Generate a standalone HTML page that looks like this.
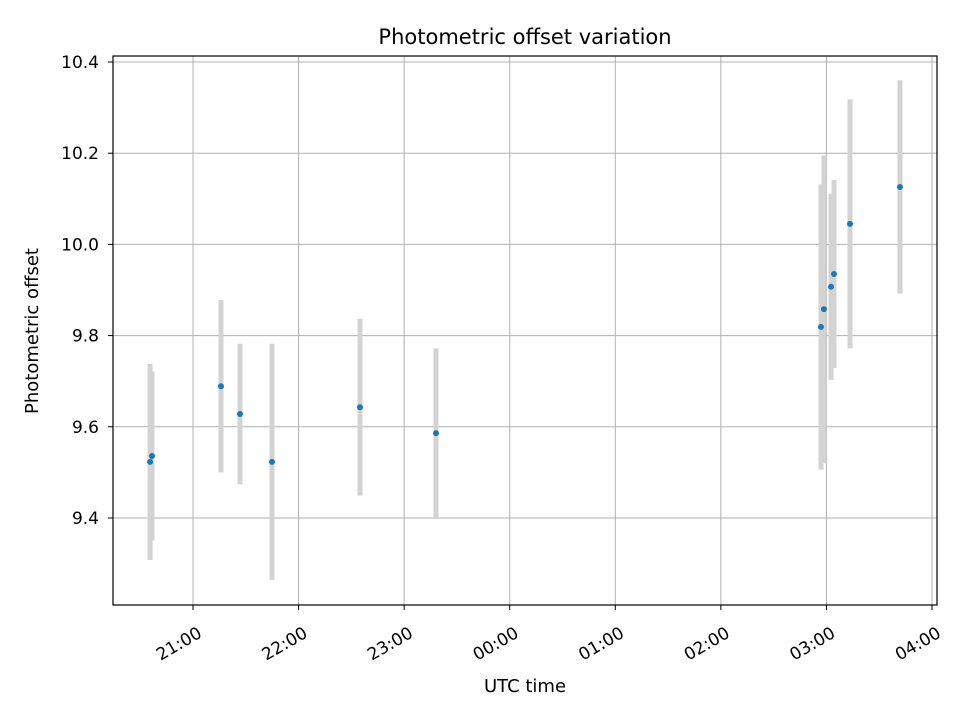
<!DOCTYPE html>
<html><head><meta charset="utf-8"><style>
body{margin:0;background:#fff;}
svg text{font-family:"DejaVu Sans","Liberation Sans",sans-serif;fill:#000;}
</style></head><body>
<svg id="chart" width="960" height="720" xmlns="http://www.w3.org/2000/svg">
<rect width="960" height="720" fill="#fff"/>
<g id="grid"></g>
<g id="bars"></g>
<g id="pts"></g>
<rect x="113" y="56" width="824" height="549" fill="none" stroke="#000" stroke-width="1.2"/>
<g id="axes"></g>
<text x="525" y="44" font-size="21" text-anchor="middle">Photometric offset variation</text>
<text x="525" y="692" font-size="18" text-anchor="middle">UTC time</text>
<text transform="translate(38,331) rotate(-90)" font-size="18" text-anchor="middle">Photometric offset</text>
</svg>
<script>
// minutes since 20:00 UTC
const times = [35.6, 36.7, 75.9, 86.7, 104.9, 154.9, 198.1, 416.9, 418.6, 422.6, 424.3, 433.4, 461.8];
const offsets = [9.523, 9.536, 9.689, 9.628, 9.523, 9.643, 9.586, 9.819, 9.858, 9.907, 9.935, 10.045, 10.126];
const errors = [0.215, 0.185, 0.189, 0.154, 0.259, 0.194, 0.186, 0.313, 0.337, 0.204, 0.206, 0.273, 0.234];
const xTickLabels = ["21:00","22:00","23:00","00:00","01:00","02:00","03:00","04:00"];
const xTickMinutes = [60,120,180,240,300,360,420,480];
const yTickValues = [9.4,9.6,9.8,10.0,10.2,10.4];
const yTickLabels = ["9.4","9.6","9.8","10.0","10.2","10.4"];

const NS="http://www.w3.org/2000/svg";
function xs(m){return 193+(m-60)*105.57/60;}
function ys(v){return 518-(v-9.4)*456;}
function mk(tag,attrs,parent){const e=document.createElementNS(NS,tag);for(const k in attrs)e.setAttribute(k,attrs[k]);parent.appendChild(e);return e;}
const grid=document.getElementById('grid'),axes=document.getElementById('axes'),bars=document.getElementById('bars'),pts=document.getElementById('pts');
xTickMinutes.forEach((m,i)=>{
  const x=xs(m);
  const g=mk('line',{x1:x,x2:x,y1:56,y2:605,stroke:'#b0b0b0','stroke-width':1},grid);
  
  
  const t=mk('line',{x1:x,x2:x,y1:605,y2:610,stroke:'#000'},axes);
  
  
  const l=mk('text',{transform:`translate(${x+4},${626}) rotate(-30)`,'font-size':17,'text-anchor':'end','dominant-baseline':'hanging'},axes);
  l.textContent=xTickLabels[i];
  
  
});
yTickValues.forEach((v,i)=>{
  const y=ys(v);
  const g=mk('line',{x1:113,x2:937,y1:y,y2:y,stroke:'#b0b0b0','stroke-width':1},grid);
  
  
  const t=mk('line',{x1:108,x2:113,y1:y,y2:y,stroke:'#000'},axes);
  
  
  const l=mk('text',{x:99,y:y+6,'font-size':17,'text-anchor':'end'},axes);
  l.textContent=yTickLabels[i];
  
  
});
times.forEach((m,i)=>{
  const x=xs(m);
  const b=mk('line',{x1:x,x2:x,y1:ys(offsets[i]+errors[i]),y2:ys(offsets[i]-errors[i]),stroke:'#d3d3d3','stroke-width':5},bars);
  
  
  const c=mk('circle',{cx:x,cy:ys(offsets[i]),r:3,fill:'#1f77b4'},pts);
  
  
});
</script>
</body></html>
